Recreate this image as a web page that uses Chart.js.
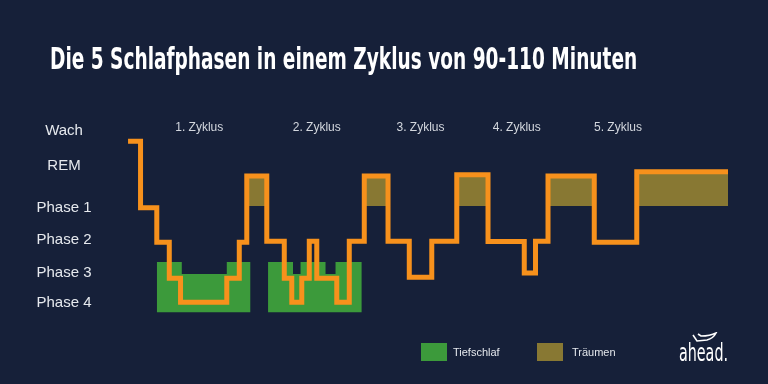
<!DOCTYPE html>
<html>
<head>
<meta charset="utf-8">
<script src="https://cdn.jsdelivr.net/npm/chart.js@4/dist/chart.umd.min.js"></script>
<style>
  html, body { margin: 0; padding: 0; background: #162039; }
  #wrap { position: relative; width: 768px; height: 384px; overflow: hidden; background: #162039; }
  #myChart { position: absolute; left: 0; top: 0; }
  #titel { position: absolute; left: 50px; top: 43px; white-space: nowrap; color: #ffffff;
           font: bold 31px/31px "Liberation Sans Narrow", "DejaVu Sans Condensed", sans-serif;
           transform-origin: 0 0; }
  .leg-box { position: absolute; top: 343px; width: 26px; height: 18px; }
  .leg-txt { position: absolute; top: 345px; color: #e4e7ec; font: 11px/14px "Liberation Sans", Arial, sans-serif; }
  #logo { position: absolute; left: 679px; top: 341px; color: #ffffff; white-space: nowrap;
          font: 24px/24px "Liberation Sans Narrow", "DejaVu Sans Condensed", sans-serif; transform-origin: 0 0; }
  #logo-icon { position: absolute; left: 692px; top: 332px; }
</style>
</head>
<body>
<div id="wrap">
  <canvas id="myChart" width="768" height="384"></canvas>
  <div id="titel">Die 5 Schlafphasen in einem Zyklus von 90-110 Minuten</div>
  <div class="leg-box" style="left:421px; background:#3c9a3b;"></div>
  <div class="leg-txt" style="left:453px;">Tiefschlaf</div>
  <div class="leg-box" style="left:537px; background:#887833;"></div>
  <div class="leg-txt" style="left:572px;">Träumen</div>
  <svg id="logo-icon" width="26" height="11" viewBox="0 0 26 11">
    <path d="M1 3 L5 9 L15 8 C19 7 22 5 24 1 C20 3 14 4 9 4 L6 2" fill="none" stroke="#ffffff" stroke-width="1.6"/>
  </svg>
  <div id="logo">ahead.</div>
</div>
<script>
// Phasen (y-Achse)
var phasen_labels = ['Wach', 'REM', 'Phase 1', 'Phase 2', 'Phase 3', 'Phase 4'];
var phasen_werte = [4.94, 3.92, 2.71, 1.79, 0.84, -0.03];

// Zyklen (obere Achse), Minuten
var zyklus_labels = ['1. Zyklus', '2. Zyklus', '3. Zyklus', '4. Zyklus', '5. Zyklus'];
var zyklus_minuten = [57, 151, 234, 311, 392];

// Schlafverlauf: Beginn jedes Abschnitts (Minuten) und Tiefe
var verlauf_minuten = [0, 10, 23, 33, 42, 79, 89, 95, 111, 125, 131, 139, 145, 151, 167, 177, 189,
                       208, 225, 243, 263, 288, 317, 326, 336, 373, 407, 480];
var verlauf_tiefe = [4.64, 2.72, 1.73, 0.69, 0, 0.69, 1.73, 3.64, 1.76, 0.69, 0, 0.69, 1.76, 0.69, 0, 1.76, 3.64,
                     1.76, 0.72, 1.76, 3.67, 1.75, 0.84, 1.76, 3.64, 1.73, 3.76, 3.76];

// Tiefschlaf-Flaechen (Oberkante), Unterkante
var tief1_minuten = [23, 43, 79, 98];
var tief1_oben = [1.16, 0.81, 1.16, 1.16];
var tief2_minuten = [112, 132, 138, 158, 166, 187];
var tief2_oben = [1.16, 0.81, 1.16, 0.81, 1.16, 1.16];
var tief_unten = -0.29;

// Traeumen-Flaechen
var traum_start = [95, 189, 263, 336, 407];
var traum_ende = [111, 208, 288, 373, 480];
var traum_oben = [3.64, 3.64, 3.67, 3.64, 3.76];
var traum_unten = 2.77;

function punkte(xs, ys) {
    return xs.map(function(x, i) { return {x: x, y: ys[i]}; });
}

window.onload = function() {
    // Titel und Logo auf Breite bringen
    var titel = document.getElementById('titel');
    titel.style.transform = 'scaleX(' + (587 / titel.offsetWidth) + ')';
    var logo = document.getElementById('logo');
    logo.style.transform = 'scaleX(' + (49 / logo.offsetWidth) + ')';

    // jeder Punkt gilt bis zum naechsten (erst waagrecht, dann senkrecht)
    var datasets = [{
        label: 'Schlafverlauf',
        data: punkte(verlauf_minuten, verlauf_tiefe),
        stepped: 'before',
        borderColor: '#f7911c',
        borderWidth: 5,
        borderJoinStyle: 'miter',
        borderCapStyle: 'butt',
        pointRadius: 0,
        fill: false
    }];

    [[tief1_minuten, tief1_oben], [tief2_minuten, tief2_oben]].forEach(function(t) {
        datasets.push({
            label: 'Tiefschlaf',
            data: punkte(t[0], t[1]),
            stepped: 'before',
            borderWidth: 0,
            borderColor: 'rgba(0,0,0,0)',
            backgroundColor: '#3c9a3b',
            pointRadius: 0,
            fill: {value: tief_unten}
        });
    });

    traum_start.forEach(function(s, i) {
        datasets.push({
            label: 'Träumen',
            data: [{x: s, y: traum_oben[i]}, {x: traum_ende[i], y: traum_oben[i]}],
            stepped: 'before',
            borderWidth: 0,
            borderColor: 'rgba(0,0,0,0)',
            backgroundColor: '#887833',
            pointRadius: 0,
            fill: {value: traum_unten}
        });
    });

    var ctx = document.getElementById('myChart').getContext('2d');
    var myChart = new Chart(ctx, {
        type: 'line',
        data: { datasets: datasets },
        options: {
            responsive: false,
            animation: false,
            layout: { padding: { top: 120, right: 40, bottom: 54, left: 0 } },
            plugins: {
                legend: { display: false },
                tooltip: { enabled: false },
                title: { display: false }
            },
            scales: {
                x: {
                    type: 'linear', min: 0, max: 480, display: false
                },
                x2: {
                    type: 'linear', position: 'top', min: 0, max: 480,
                    grid: { display: false, drawTicks: false },
                    border: { display: false },
                    afterBuildTicks: function(axis) {
                        axis.ticks = zyklus_minuten.map(function(m) { return {value: m}; });
                    },
                    ticks: {
                        mirror: true,
                        padding: 0,
                        autoSkip: false,
                        maxRotation: 0,
                        color: '#d3d7de',
                        font: { family: '"Liberation Sans", Arial, sans-serif', size: 12 },
                        callback: function(value, index) { return zyklus_labels[index]; }
                    }
                },
                y: {
                    type: 'linear', min: -0.8, max: 5.25,
                    grid: { display: false, drawTicks: false },
                    border: { display: false },
                    afterBuildTicks: function(axis) {
                        axis.ticks = phasen_werte.map(function(v) { return {value: v}; });
                    },
                    ticks: {
                        padding: 36.5,
                        crossAlign: 'center',
                        autoSkip: false,
                        color: '#e6e9ee',
                        font: { family: '"Liberation Sans", Arial, sans-serif', size: 15 },
                        callback: function(value, index) { return phasen_labels[index]; }
                    }
                }
            }
        }
    });
};
</script>
</body>
</html>
